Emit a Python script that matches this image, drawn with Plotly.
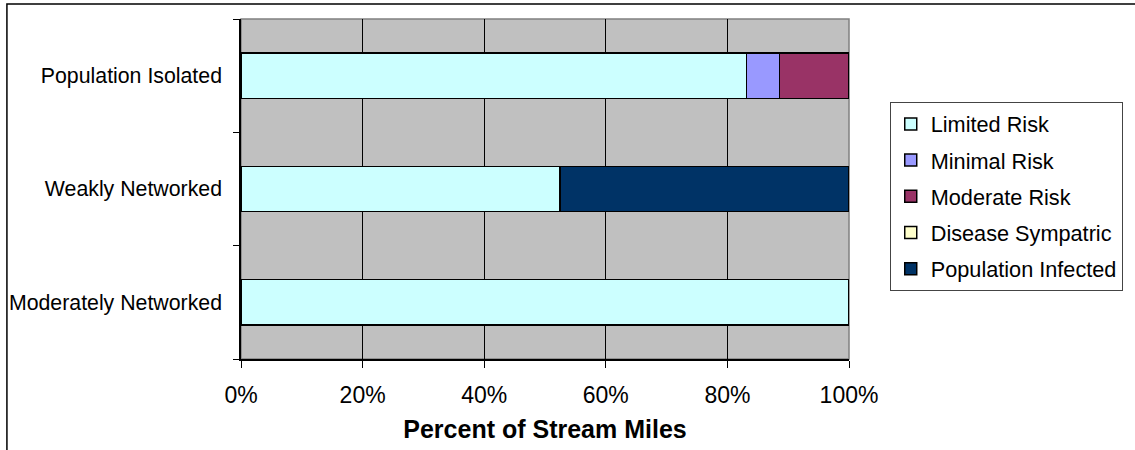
import plotly.graph_objects as go

# categories bottom -> top
categories = ["Moderately Networked", "Weakly Networked", "Population Isolated"]

limited_risk = [100.0, 52.5, 83.1]
minimal_risk = [0.0, 0.0, 5.5]
moderate_risk = [0.0, 0.0, 11.4]
disease_sympatric = [0.0, 0.0, 0.0]
population_infected = [0.0, 47.5, 0.0]

series = [
    ("Limited Risk", limited_risk, "#CCFFFF"),
    ("Minimal Risk", minimal_risk, "#9999FF"),
    ("Moderate Risk", moderate_risk, "#993366"),
    ("Disease Sympatric", disease_sympatric, "#FFFFCC"),
    ("Population Infected", population_infected, "#003366"),
]

font = "Arial, Liberation Sans, sans-serif"

fig = go.Figure()
for i, (name, vals, col) in enumerate(series):
    fig.add_trace(go.Bar(
        y=categories, x=vals, name=name, orientation="h",
        marker=dict(color=col, line=dict(color="black", width=1.5)),
        width=0.4, legendgroup=str(i),
    ))

fig.update_layout(
    barmode="stack",
    width=1135, height=450,
    margin=dict(l=241, r=286, t=19, b=91, autoexpand=False),
    paper_bgcolor="white",
    plot_bgcolor="#C0C0C0",
    font=dict(family=font, color="black", size=21.7),
    legend=dict(
        x=1.067, y=0.755, xanchor="left", yanchor="top",
        bordercolor="#444444", borderwidth=1,
        font=dict(size=21.7), tracegroupgap=5,
        itemwidth=30,
    ),
    xaxis=dict(
        range=[0, 100], tickvals=[0, 20, 40, 60, 80, 100],
        ticktext=["0%", "20%", "40%", "60%", "80%", "100%"],
        showgrid=True, gridcolor="black", gridwidth=1,
        zeroline=False, showline=True, linecolor="black", linewidth=1.5,
        ticks="outside", ticklen=7, tickcolor="black",
        tickfont=dict(size=23), ticklabelstandoff=8, automargin=False,
        title=dict(text="<b>Percent of Stream Miles</b>", font=dict(size=25), standoff=13),
    ),
    yaxis=dict(
        type="category", categoryorder="array", categoryarray=categories,
        tickson="boundaries", ticks="outside", ticklen=6, tickcolor="black",
        showgrid=False, showline=True, linecolor="black", linewidth=1.5,
        tickfont=dict(size=21.3), ticklabelstandoff=13, automargin=False,
    ),
    shapes=[
        dict(type="rect", xref="paper", yref="paper", x0=0, x1=1, y0=0, y1=1,
             line=dict(color="#808080", width=1.5), layer="below"),
        dict(type="rect", xref="paper", yref="paper",
             x0=-0.385, x1=1.49, y0=-0.3, y1=1.044,
             line=dict(color="black", width=1.5), layer="below"),
    ],
)

fig.write_html("out.html", config={"displayModeBar": False},
               post_script="document.body.style.margin='0';")
